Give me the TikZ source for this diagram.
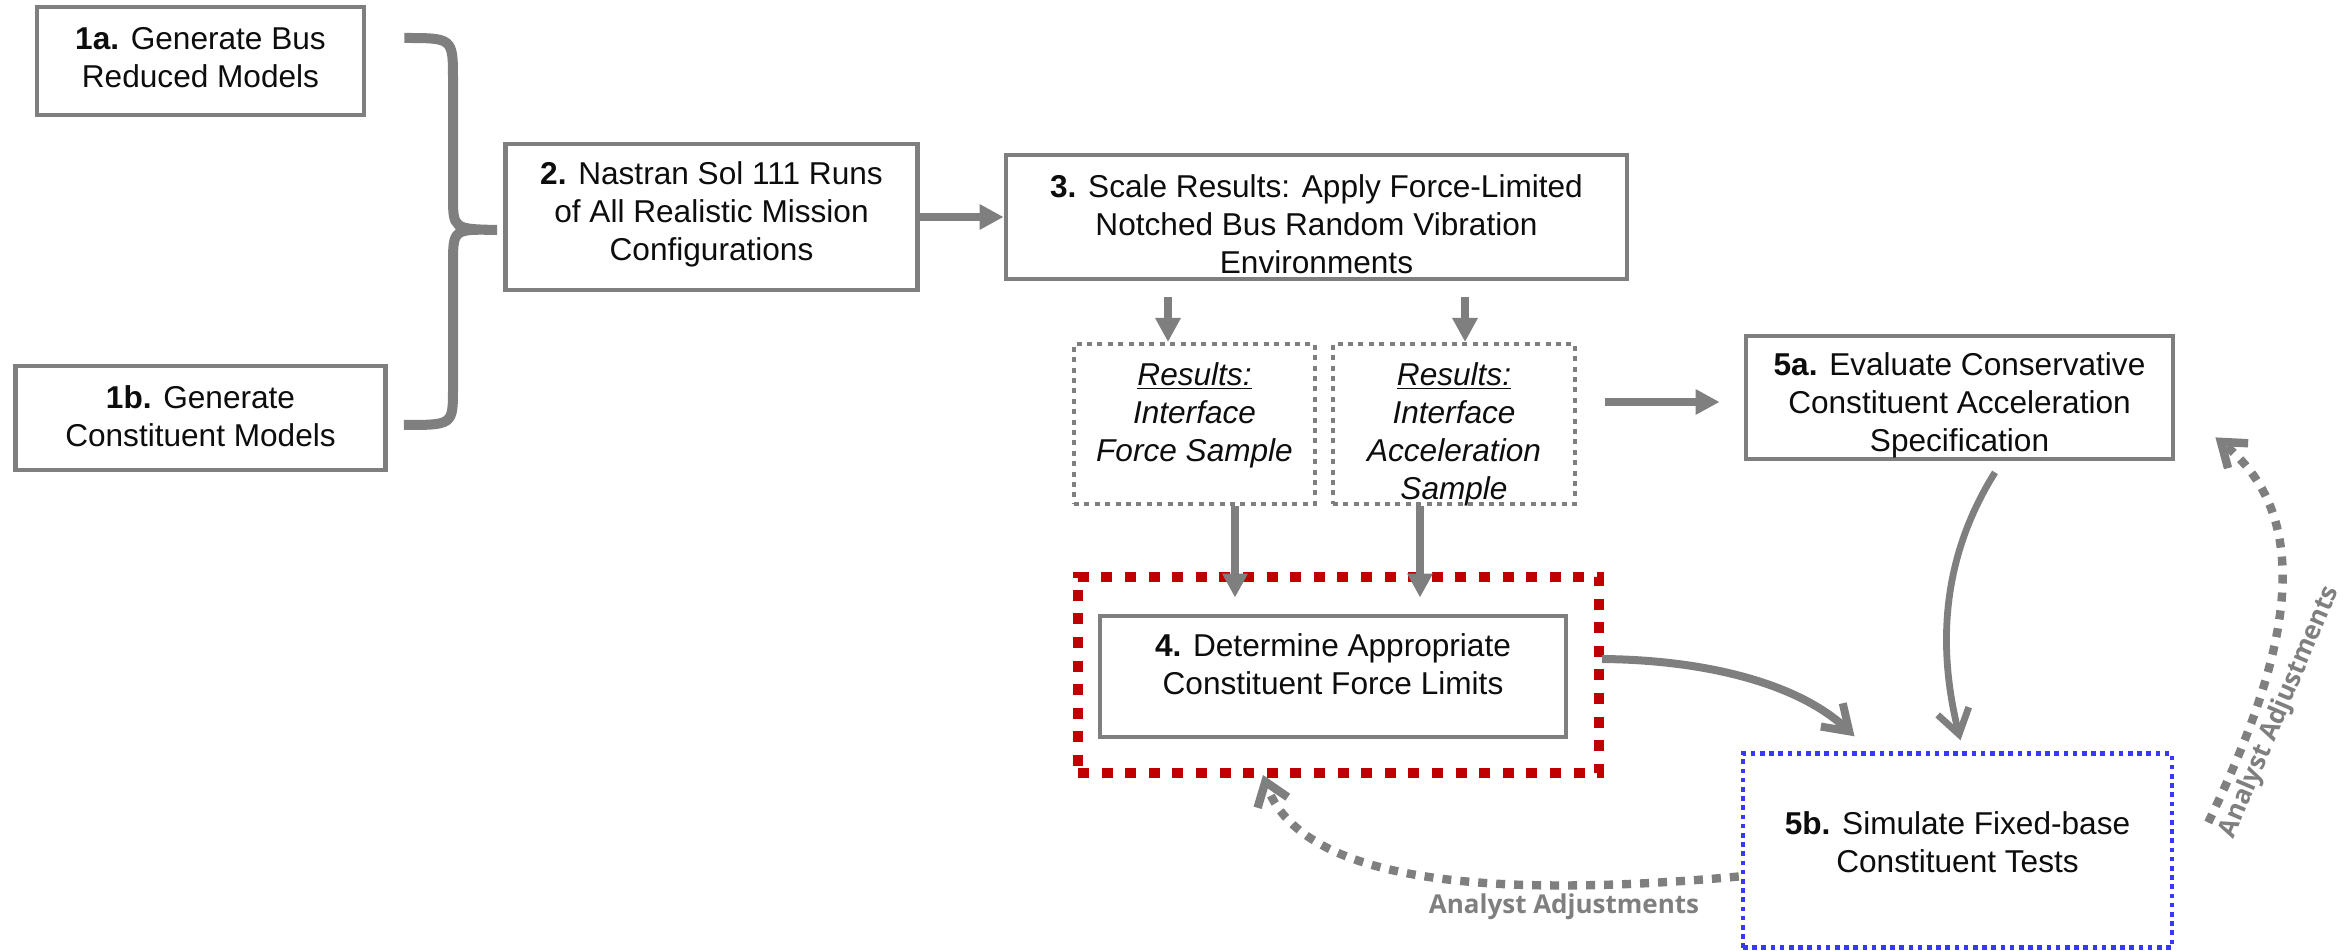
\documentclass[tikz,border=0pt]{standalone}
\usepackage{fontspec}
\setmainfont{Liberation Sans}
\newfontfamily\lblfont{Open Sans}
\usetikzlibrary{arrows.meta,calc}
\definecolor{boxgray}{RGB}{127,127,127}
\definecolor{redd}{RGB}{192,0,0}
\definecolor{blued}{RGB}{55,55,255}
\definecolor{txtc}{RGB}{13,13,13}
\begin{document}
\begin{tikzpicture}[x=0.5pt,y=-0.5pt,
  box/.style={draw=boxgray, line width=2.4pt, fill=white, inner sep=0pt},
  txt/.style={align=center, font=\fontsize{15.8}{19}\selectfont, text=txtc, inner sep=0pt},
  resbox/.style={draw=boxgray, line width=2pt, dash pattern=on 2.5pt off 2.7pt, inner sep=0pt},
  redbox/.style={draw=redd, line width=5pt, dash pattern=on 5.5pt off 6.3pt, inner sep=0pt},
  bluebox/.style={draw=blued, line width=2.2pt, dash pattern=on 2.3pt off 2.3pt, fill=white, inner sep=0pt},
  arr/.style={draw=boxgray, line width=3.6pt, -{Triangle[length=12pt,width=12pt]}},
  brace/.style={draw=boxgray, line width=5pt},
  carr/.style={draw=boxgray, -{Straight Barb[length=12pt,width=16pt]}},
  darr/.style={draw=boxgray, line width=4.2pt, dash pattern=on 4.5pt off 4.5pt, -{Straight Barb[length=11pt,width=16pt]}},
  lbl/.style={font=\lblfont\bfseries\fontsize{13}{15}\selectfont, text=boxgray, inner sep=0pt}
]
\useasboundingbox (0,0) rectangle (2351,951);

% boxes
\node[box, minimum width=163.5pt, minimum height=54pt] (n1a) at (200.5,61) {};
\node[box, minimum width=185pt, minimum height=52pt] (n1b) at (200.5,418) {};
\node[box, minimum width=206pt, minimum height=73pt] (n2) at (711.5,217) {};
\node[box, minimum width=310.5pt, minimum height=62pt] (n3) at (1316.5,217) {};
\node[resbox, minimum width=120.5pt, minimum height=80pt] (r1) at (1194.5,424) {};
\node[resbox, minimum width=121pt, minimum height=80pt] (r2) at (1454,424) {};
\node[redbox, minimum width=260.5pt, minimum height=98pt] (red) at (1338.5,675) {};
\node[box, minimum width=233pt, minimum height=60.5pt] (n4) at (1333,676.5) {};
\node[box, minimum width=213.5pt, minimum height=61.5pt] (n5a) at (1959.5,397.5) {};
\node[bluebox, minimum width=214.5pt, minimum height=97pt] (n5b) at (1957.5,850.5) {};

% texts
\node[txt] (t1a) at (200.5,58) {\textbf{1a.} Generate Bus\\Reduced Models};
\node[txt] (t1b) at (200.5,416) {\textbf{1b.} Generate\\Constituent Models};
\node[txt] (t2) at (711.5,214) {\textbf{2.} Nastran Sol 111 Runs\\of All Realistic Mission\\Configurations};
\node[txt] (t3) at (1316.5,224) {\textbf{3.} Scale Results: Apply Force-Limited\\Notched Bus Random Vibration\\Environments};
\node[txt] (tr1) at (1194.5,415) {\underline{\textit{Results:}}\\\textit{Interface}\\\textit{Force Sample}};
\node[txt] (tr2) at (1454,434) {\underline{\textit{Results:}}\\\textit{Interface}\\\textit{Acceleration}\\\textit{Sample}};
\node[txt] (t5a) at (1959.5,405) {\textbf{5a.} Evaluate Conservative\\Constituent Acceleration\\Specification};
\node[txt] (t4) at (1333,664) {\textbf{4.} Determine Appropriate\\Constituent Force Limits};
\node[txt] (t5b) at (1957.5,842) {\textbf{5b.} Simulate Fixed-base\\Constituent Tests};

% brace
\draw[brace] ($(n1a.east)+(38,-23)$) .. controls (453,38) .. (453,80) -- (453,195)
  .. controls (453,229) .. ($(n2.west)+(-6,13)$)
  .. controls (453,229) .. (453,265) -- (453,388)
  .. controls (453,425) .. ($(n1b.east)+(16,7)$);

% straight arrows
\draw[arr] (n2.east) -- (n3.west);
\draw[arr] ($(n3.south)+(-148.5,16)$) -- ($(r1.north)+(-26.5,0)$);
\draw[arr] ($(n3.south)+(148.5,16)$) -- ($(r2.north)+(11,0)$);
\draw[arr] ($(r1.south)+(40.5,0)$) -- ($(n4.north)+(-98,-16)$);
\draw[arr] ($(r2.south)+(-34,0)$) -- ($(n4.north)+(87,-16)$);
\draw[arr] ($(r2.east)+(28,-22)$) -- ($(n5a.west)+(-24,4.5)$);

% curved arrows
\draw[carr, line width=4pt] ($(red.east)+(-2,-16)$) .. controls (1710,660) and (1800,685) .. ($(n5b.north)+(-103,-15)$);
\draw[carr, line width=3.4pt] ($(n5a.south)+(35.5,11)$) .. controls (1940,560) and (1938,650) .. ($(n5b.north)+(3,-11)$);

% dashed feedback arrows
\draw[darr] ($(n5b.west)+(-2,26)$) .. controls (1480,900) and (1300,880) .. ($(red.south)+(-75.5,-3)$);
\draw[darr] ($(n5b.east)+(34,-28)$) .. controls (2272,690) and (2330,530) .. ($(n5a.south east)+(40,-24)$);

% labels
\node[lbl] (la1) at (1564,907) {Analyst Adjustments};
\node[lbl, rotate=67] (la2) at (2280,712) {Analyst Adjustments};
\end{tikzpicture}
\end{document}
